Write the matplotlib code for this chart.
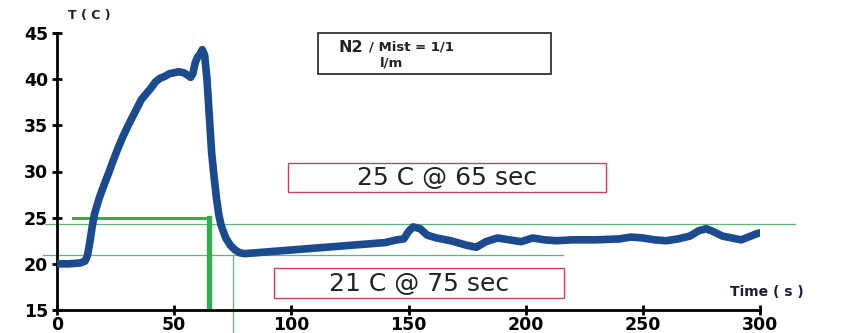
import numpy as np
import matplotlib.pyplot as plt

# temperature trace, N2 / mist cooling run
time_s = [0, 5, 10, 12, 13, 14, 15, 16, 18, 20, 22, 24, 26, 28, 30, 32, 34, 36, 38, 40,
          42, 44, 46, 48, 50, 52, 54, 56, 57, 58, 59, 60, 61, 62, 63, 64, 65, 66, 67, 68,
          69, 70, 72, 74, 76, 78, 80, 85, 90, 95, 100, 110, 120, 130, 140, 145, 148, 150,
          152, 155, 158, 162, 168, 175, 179, 183, 188, 193, 198, 203, 208, 213, 220, 230,
          240, 245, 250, 255, 260, 265, 270, 274, 277, 280, 284, 288, 292, 296, 299, 301]
temp_c = [20.0, 20.0, 20.1, 20.3, 20.9, 22.3, 24.0, 25.4, 27.1, 28.5, 29.8, 31.2, 32.5, 33.7,
          34.8, 35.8, 36.8, 37.8, 38.4, 39.0, 39.7, 40.1, 40.3, 40.6, 40.7, 40.8, 40.7, 40.4,
          40.2, 40.6, 41.8, 42.4, 42.7, 43.2, 42.6, 40.0, 36.0, 32.0, 29.5, 27.2, 25.4, 24.2,
          22.8, 22.0, 21.5, 21.2, 21.1, 21.2, 21.3, 21.4, 21.5, 21.7, 21.9, 22.1, 22.3, 22.6,
          22.7, 23.5, 24.0, 23.8, 23.1, 22.8, 22.5, 22.0, 21.8, 22.4, 22.8, 22.6, 22.4, 22.8,
          22.6, 22.5, 22.6, 22.6, 22.7, 22.9, 22.8, 22.6, 22.5, 22.7, 23.0, 23.6, 23.8, 23.5,
          23.0, 22.8, 22.6, 23.0, 23.3, 23.4]

# marked points: (temperature, time)
mark_hi = (25, 65)
mark_lo = (21, 75)
ref_upper = 24.3

xticks = [0, 50, 100, 150, 200, 250, 300]
yticks = [15, 20, 25, 30, 35, 40, 45]

W, H = 852, 333
fig = plt.figure(figsize=(W / 100, H / 100), dpi=100)
ax = fig.add_axes([57 / W, 1 - 310 / H, (760 - 57) / W, (310 - 33) / H])

blue = '#1b4a8e'
green = '#2eb04c'
thin_green = '#5cb878'

ax.plot(time_s, temp_c, color=blue, lw=5.5, solid_capstyle='round', zorder=3)

# reference lines
ax.plot([7, mark_hi[1]], [mark_hi[0], mark_hi[0]], color=green, lw=2.2, zorder=2)
ax.plot([mark_hi[1], mark_hi[1]], [15, mark_hi[0]], color=green, lw=3.8, zorder=2)
ax.plot([-5, 315], [ref_upper, ref_upper], color=thin_green, lw=0.9, clip_on=False, zorder=1)
ax.plot([-6, 216], [mark_lo[0], mark_lo[0]], color=thin_green, lw=0.9, clip_on=False, zorder=1)
ax.plot([mark_lo[1], mark_lo[1]], [12.5, mark_lo[0]], color=thin_green, lw=0.9, clip_on=False, zorder=1)

ax.set_xlim(0, 300)
ax.set_ylim(15, 45)
ax.set_xticks(xticks)
ax.set_yticks(yticks)
for s in ['top', 'right']:
    ax.spines[s].set_visible(False)
for s in ['left', 'bottom']:
    ax.spines[s].set_linewidth(2)
ax.tick_params(direction='inout', length=7, width=2, labelsize=12.5)
ax.tick_params(axis='y', pad=3)
ax.tick_params(axis='x', pad=1)
for lab in ax.get_xticklabels() + ax.get_yticklabels():
    lab.set_fontweight('bold')
ax.patch.set_alpha(0)


def px_box(x0, y0, x1, y1, ec, lw=1.0):
    fig.patches.append(plt.Rectangle((x0 / W, 1 - y1 / H), (x1 - x0) / W, (y1 - y0) / H,
                                     transform=fig.transFigure, fc='white', ec=ec, lw=lw, zorder=5))


# annotation boxes
px_box(288, 163, 606, 192, '#c8445a')
fig.text(447 / W, 1 - 178 / H, f'{mark_hi[0]} C @ {mark_hi[1]} sec', fontsize=18,
         ha='center', va='center', color='#222222', zorder=6)
px_box(274, 268, 564, 298, '#c8445a')
fig.text(419 / W, 1 - 284 / H, f'{mark_lo[0]} C @ {mark_lo[1]} sec', fontsize=18,
         ha='center', va='center', color='#222222', zorder=6)

# N2 / mist legend box
px_box(318, 33, 551, 74, '#333333', lw=1.3)
fig.text(338 / W, 1 - 48 / H, 'N2', fontsize=11.5, fontweight='bold', va='center', color='#222222', zorder=6)
fig.text(369 / W, 1 - 47 / H, '/ Mist = 1/1', fontsize=9.5, fontweight='bold', va='center', color='#222222', zorder=6)
fig.text(380 / W, 1 - 63 / H, 'l/m', fontsize=9.5, fontweight='bold', va='center', color='#222222', zorder=6)

fig.text(68 / W, 1 - 15 / H, 'T ( C )', fontsize=9, fontweight='bold', va='center', color='#222222')
fig.text(730 / W, 1 - 292 / H, 'Time ( s )', fontsize=10, fontweight='bold', va='center', color='#1c1c3a')

fig.savefig('out.png', dpi=100)
